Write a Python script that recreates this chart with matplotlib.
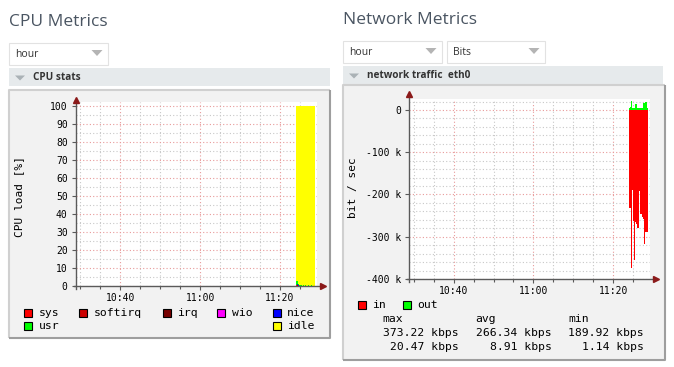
import numpy as np
import matplotlib
matplotlib.use("Agg")   # no display
import matplotlib.pyplot as plt
from matplotlib.patches import Rectangle, Polygon

# ---------------------------------------------------------------------------
# Data
# ---------------------------------------------------------------------------

t_start = 11 * 60 + 24      # first RRD column, minutes since midnight (11:24)
step = 0.25                 # 15 s per column

time_ticks = [10 * 60 + 40, 11 * 60, 11 * 60 + 20]
time_labels = ["10:40", "11:00", "11:20"]

cpu_names = ["sys", "softirq", "irq", "wio", "nice", "usr", "idle"]
cpu_colors = ["#ff0000", "#cc0000", "#770000", "#ff00ff", "#0000ff", "#00ff00", "#ffff00"]
cpu_sys = [0.5, 0.4, 0.2, 0.1, 0.1, 0.1, 0.1, 0.1, 0.1, 0.1, 0.1, 0.1, 0.1, 0.1, 0.1, 0.1, 0.1, 0.1, 0.1]
cpu_softirq = [0.2, 0.1, 0.1, 0.0, 0.0, 0.0, 0.0, 0.0, 0.0, 0.0, 0.0, 0.0, 0.0, 0.0, 0.0, 0.0, 0.0, 0.0, 0.0]
cpu_irq = [0.0, 0.0, 0.0, 0.0, 0.0, 0.0, 0.0, 0.0, 0.0, 0.0, 0.0, 0.0, 0.0, 0.0, 0.0, 0.0, 0.0, 0.0, 0.0]
cpu_wio = [0.1, 0.0, 0.0, 0.0, 0.0, 0.0, 0.0, 0.0, 0.0, 0.0, 0.0, 0.0, 0.0, 0.0, 0.0, 0.0, 0.0, 0.0, 0.0]
cpu_nice = [0.0, 0.6, 0.3, 0.0, 0.0, 0.0, 0.0, 0.0, 0.0, 0.0, 0.0, 0.0, 0.0, 0.0, 0.0, 0.0, 0.0, 0.0, 0.0]
cpu_usr = [2.4, 1.6, 0.6, 0.4, 0.5, 0.4, 0.3, 0.4, 0.3, 0.4, 0.3, 0.3, 0.4, 0.3, 0.3, 0.4, 0.3, 0.3, 0.3]
cpu_idle = [96.8, 97.3, 98.8, 99.5, 99.4, 99.5, 99.6, 99.5, 99.6, 99.5, 99.6, 99.6, 99.5, 99.6, 99.6, 99.5, 99.6, 99.6, 99.6]
cpu_yticks = [0, 10, 20, 30, 40, 50, 60, 70, 80, 90, 100]

net_names = ["in", "out"]
net_colors = ["#ff0000", "#00ff00"]
# kbit/s, "in" is drawn below zero
net_in = [232, 232, 373.2, 190, 262, 355, 265, 271, 280, 280, 192, 245, 245, 253, 257, 316, 289, 289, 289]
net_out = [5, 6, 20.5, 5, 4, 5, 14, 14, 4, 5, 4, 5, 5, 4, 17, 17, 20, 20, 5]
net_yticks = [0, -100, -200, -300, -400]
net_ylabels = ["0", "-100 k", "-200 k", "-300 k", "-400 k"]
stat_heads = ["max", "avg", "min"]
stat_in = [373.22, 266.34, 189.92]
stat_out = [20.47, 8.91, 1.14]

# ---------------------------------------------------------------------------
# Figure + pixel helpers
# ---------------------------------------------------------------------------

W, H = 674, 367
fig = plt.figure(figsize=(W / 100, H / 100), dpi=100)
fig.patch.set_facecolor("white")

bg = fig.add_axes([0, 0, 1, 1])
bg.set_xlim(0, W)
bg.set_ylim(H, 0)
bg.axis("off")

MONO = "DejaVu Sans Mono"
UI = "Open Sans"
TITLE_C = "#4a5562"
AXIS_C = "#5a5a5a"
ARROW_C = "#8b1a1a"


def box(x0, y0, x1, y1, **kw):
    bg.add_patch(Rectangle((x0, y0), x1 - x0, y1 - y0, **kw))


def tri_down(cx, cy, w, h, color):
    bg.add_patch(Polygon([(cx - w / 2, cy - h / 2), (cx + w / 2, cy - h / 2), (cx, cy + h / 2)],
                         closed=True, color=color, lw=0))


def dropdown(x0, y0, x1, y1, label):
    box(x0 + 1, y0 + 1, x1 + 1, y1 + 1, facecolor="#ececec", edgecolor="none")
    box(x0, y0, x1, y1, facecolor="white", edgecolor="#e2e2e2", lw=0.8)
    bg.text(x0 + 6, (y0 + y1) / 2 + 0.5, label, fontsize=7.5, family=UI, color="#333333",
            va="center", ha="left")
    tri_down(x1 - 11, (y0 + y1) / 2 - 1, 11, 6, "#b4b4b4")


def header(x0, y0, x1, y1, label):
    box(x0, y0, x1, y1, facecolor="#e6eaec", edgecolor="none")
    tri_down(x0 + 11, (y0 + y1) / 2 + 1, 10, 5, "#aab2b6")
    bg.text(x0 + 24, (y0 + y1) / 2, label, fontsize=7.2, family=UI, weight="bold",
            color="#333333", va="center", ha="left")


def rrd_frame(x0, y0, x1, y1):
    box(x0, y0, x1, y1, facecolor="#f2f2f2", edgecolor="none")
    bg.plot([x0, x0, x1], [y1, y0, y0], color="#d0d0d0", lw=1.5, solid_capstyle="butt")
    bg.plot([x0, x1, x1], [y1, y1, y0], color="#9e9e9e", lw=1.5, solid_capstyle="butt")


def px_axes(left, top, right, bottom):
    ax = fig.add_axes([left / W, 1 - bottom / H, (right - left) / W, (bottom - top) / H])
    ax.set_facecolor("white")
    for s in ax.spines.values():
        s.set_visible(False)
    return ax


def rrd_axes_style(ax, xminor, yminor, yticks, ylabels, xarrow, yarrow):
    ax.set_xticks(time_ticks)
    ax.set_xticklabels(time_labels)
    ax.set_xticks(xminor, minor=True)
    ax.set_yticks(yticks)
    ax.set_yticklabels(ylabels)
    ax.set_yticks(yminor, minor=True)
    ax.grid(which="minor", color="#c8c8c8", ls=(0, (1, 2)), lw=0.8)
    ax.grid(which="major", color="#e89a9a", ls=(0, (1, 2)), lw=0.8)
    ax.set_axisbelow(True)
    ax.tick_params(which="both", direction="out", color=AXIS_C, labelsize=7, width=0.8)
    ax.tick_params(axis="x", which="major", length=3, pad=2)
    ax.tick_params(axis="x", which="minor", length=2)
    ax.tick_params(axis="y", which="major", length=3, pad=3)
    ax.tick_params(axis="y", which="minor", length=0)
    for lab in ax.get_xticklabels() + ax.get_yticklabels():
        lab.set_family(MONO)
    # axis lines with arrows
    ax.plot([-0.01, xarrow], [0, 0], color=AXIS_C, lw=1, transform=ax.transAxes, clip_on=False, zorder=5)
    ax.plot([0, 0], [-0.015, yarrow], color=AXIS_C, lw=1, transform=ax.transAxes, clip_on=False, zorder=5)
    ax.plot(xarrow, 0, marker=">", ms=4.5, color=ARROW_C, mec=ARROW_C, transform=ax.transAxes,
            clip_on=False, zorder=6)
    ax.plot(0, yarrow, marker="^", ms=4.5, color=ARROW_C, mec=ARROW_C, transform=ax.transAxes,
            clip_on=False, zorder=6)


xlim = (628.9, 689.2)
xminor = [630, 635, 640, 645, 650, 655, 660, 665, 670, 675, 680, 685]
t = t_start + step * np.arange(len(net_in))
t_edges = np.append(t, t[-1] + step)


def stepped(v):
    v = np.asarray(v, dtype=float)
    return np.append(v, v[-1])


# ---------------------------------------------------------------------------
# CPU panel
# ---------------------------------------------------------------------------

bg.text(9, 21.5, "CPU Metrics", fontsize=12.5, family=UI, color=TITLE_C, va="center", ha="left")
dropdown(9, 43, 108, 65, "hour")
header(9, 68, 330, 86, "CPU stats")
rrd_frame(9, 90, 330, 338)

ax1 = px_axes(76, 101.7, 316.7, 286.3)
ax1.set_xlim(*xlim)
ax1.set_ylim(0, 102.2)
cpu_stack = [cpu_sys, cpu_softirq, cpu_irq, cpu_wio, cpu_nice, cpu_usr, cpu_idle]
base = np.zeros(len(t_edges))
for vals, c in zip(cpu_stack, cpu_colors):
    top = base + stepped(vals)
    ax1.fill_between(t_edges, base, top, step="post", color=c, lw=0, zorder=3, antialiased=False)
    base = top
rrd_axes_style(ax1, xminor, list(range(5, 100, 10)), cpu_yticks, [str(v) for v in cpu_yticks],
               1.027, 1.01)
bg.text(19, 196.5, "CPU load [%]", rotation=90, fontsize=8, family=MONO, va="center", ha="center")

# legend (RRD style, two rows)
cpu_leg_pos = [(24.3, 312.7), (79.3, 312.7), (162.7, 312.7), (217.3, 312.7), (272.7, 312.7),
               (24.3, 326), (272.7, 326)]
for name, c, (lx, ly) in zip(cpu_names, cpu_colors, cpu_leg_pos):
    box(lx, ly - 4, lx + 8, ly + 4, facecolor=c, edgecolor="black", lw=0.8)
    bg.text(lx + 14.5, ly, name, fontsize=8.2, family=MONO, va="center", ha="left")

# ---------------------------------------------------------------------------
# Network panel
# ---------------------------------------------------------------------------

bg.text(343, 19.5, "Network Metrics", fontsize=12.5, family=UI, color=TITLE_C, va="center", ha="left")
dropdown(343, 41, 442, 63, "hour")
dropdown(447, 41, 545, 63, "Bits")
header(343, 66, 663, 84, "network traffic  eth0")
rrd_frame(343, 85, 665, 360)

ax2 = px_axes(409.3, 99, 650, 279)
ax2.set_xlim(*xlim)
ax2.set_ylim(-400, 26)
ax2.fill_between(t_edges, 0, -stepped(net_in), step="post", color=net_colors[0], lw=0, zorder=3,
                 antialiased=False)
ax2.fill_between(t_edges, 0, stepped(net_out), step="post", color=net_colors[1], lw=0, zorder=3,
                 antialiased=False)
rrd_axes_style(ax2, xminor, [20] + list(range(-20, -400, -20)), net_yticks, net_ylabels,
               1.025, 1.026)
bg.text(353.3, 188, "bit / sec", rotation=90, fontsize=8, family=MONO, va="center", ha="center")

net_leg_pos = [(358, 305.3), (402.7, 305.3)]
for name, c, (lx, ly) in zip(net_names, net_colors, net_leg_pos):
    box(lx, ly - 4, lx + 8, ly + 4, facecolor=c, edgecolor="black", lw=0.8)
    bg.text(lx + 14.5, ly, name, fontsize=8.2, family=MONO, va="center", ha="left")

stat_x = [382.7, 475, 568.3]
stat_right = [458.3, 551.7, 644]
for head, xl, xr, vi, vo in zip(stat_heads, stat_x, stat_right, stat_in, stat_out):
    bg.text(xl, 319.3, head, fontsize=8.2, family=MONO, va="center", ha="left")
    bg.text(xr, 333.3, f"{vi:.2f} kbps", fontsize=8.2, family=MONO, va="center", ha="right")
    bg.text(xr, 347.3, f"{vo:.2f} kbps", fontsize=8.2, family=MONO, va="center", ha="right")

fig.savefig("out.png", dpi=100)
